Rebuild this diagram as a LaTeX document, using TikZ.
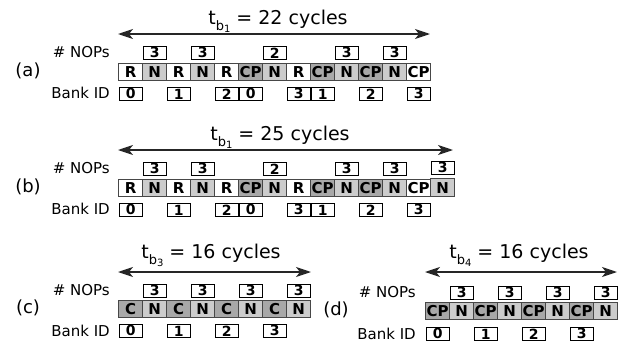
\documentclass[tikz,border=0pt]{standalone}
\usepackage{fontspec}
\setmainfont{DejaVu Sans}
\usetikzlibrary{arrows.meta}
\definecolor{ngray}{RGB}{204,204,204}
\definecolor{cgray}{RGB}{168,168,168}
\newcommand{\tsub}[1]{t\raisebox{-0.32em}{\fontsize{13}{13}\selectfont b\raisebox{-0.22em}{\fontsize{10}{10}\selectfont #1}}}
\begin{document}
\begin{tikzpicture}[x=1pt,y=-1pt,
  mb/.style={draw=black!72, line width=1.2pt, minimum width=24pt, minimum height=17pt, inner sep=0pt, anchor=north west, font=\fontsize{15}{15}\selectfont\bfseries},
  sb/.style={draw=black, line width=1.3pt, minimum width=23pt, minimum height=12.5pt, inner sep=0pt, anchor=north west, font=\fontsize{14}{14}\selectfont\bfseries},
  lbl/.style={font=\fontsize{15}{15}\selectfont, anchor=east, inner sep=0pt},
  pl/.style={font=\fontsize{18}{18}\selectfont, inner sep=0pt},
  ttl/.style={font=\fontsize{19}{19}\selectfont, anchor=base, inner sep=0pt},
  span/.style={line width=1.4pt, draw=black!85, {Stealth[length=15pt,width=10pt,inset=4pt]}-{Stealth[length=15pt,width=10pt,inset=4pt]}}
]
\useasboundingbox (0,0) rectangle (625,343);

% ---------- panel (a)
\node[ttl] (at) at (278,24) {\tsub{1} = 22 cycles};
\coordinate (aL) at (118,34); \coordinate (aR) at (430,34);
\draw[span] (aL) -- (aR);
\node[pl] (ap) at (28,71) {(a)};
\node[lbl] (anl) at (110,52) {\# NOPs};
\node[lbl] (abl) at (110,93) {Bank ID};
\foreach \t/\f [count=\i from 0] in {R/white,N/ngray,R/white,N/ngray,R/white,CP/cgray,N/ngray,R/white,CP/cgray,N/ngray,CP/cgray,N/ngray,CP/white}
  \node[mb,fill=\f] (a\i) at ({118+24*\i},63) {\t};
\foreach \s/\v in {1/3,3/3,6/2,9/3,11/3}
  \node[sb] (an\s) at ({118.5+24*\s},46) {\v};
\foreach \s/\v in {0/0,2/1,4/2,5/0,7/3,8/1,10/2,12/3}
  \node[sb] (ab\s) at ({118.5+24*\s},87) {\v};

% ---------- panel (b)
\node[ttl] (bt) at (280,140) {\tsub{1} = 25 cycles};
\coordinate (bL) at (118,150); \coordinate (bR) at (453,150);
\draw[span] (bL) -- (bR);
\node[pl] (bp) at (28,187) {(b)};
\node[lbl] (bnl) at (110,168) {\# NOPs};
\node[lbl] (bbl) at (110,209) {Bank ID};
\foreach \t/\f [count=\i from 0] in {R/white,N/ngray,R/white,N/ngray,R/white,CP/cgray,N/ngray,R/white,CP/cgray,N/ngray,CP/cgray,N/ngray,CP/white}
  \node[mb,fill=\f] (b\i) at ({118+24*\i},179) {\t};
\node[mb,fill=ngray,minimum height=18pt] (b13) at ({118+24*13},178) {N};
\foreach \s/\v in {1/3,3/3,6/2,9/3,11/3}
  \node[sb] (bn\s) at ({118.5+24*\s},162) {\v};
\node[sb] (bn13) at ({118.5+24*13},161) {3};
\foreach \s/\v in {0/0,2/1,4/2,5/0,7/3,8/1,10/2,12/3}
  \node[sb] (bb\s) at ({118.5+24*\s},203) {\v};

% ---------- panel (c)
\node[ttl] (ct) at (211,258) {\tsub{3} = 16 cycles};
\coordinate (cL) at (118,272); \coordinate (cR) at (311,272);
\draw[span] (cL) -- (cR);
\node[pl] (cp) at (28,308) {(c)};
\node[lbl] (cnl) at (110,290) {\# NOPs};
\node[lbl] (cbl) at (110,331) {Bank ID};
\foreach \t/\f [count=\i from 0] in {C/cgray,N/ngray,C/cgray,N/ngray,C/cgray,N/ngray,C/cgray,N/ngray}
  \node[mb,fill=\f] (c\i) at ({118+24*\i},300) {\t};
\foreach \s/\v in {1/3,3/3,5/3,7/3}
  \node[sb] (cn\s) at ({118.5+24*\s},284) {\v};
\foreach \s/\v in {0/0,2/1,4/2,6/3}
  \node[sb] (cb\s) at ({118.5+24*\s},324) {\v};

% ---------- panel (d)
\node[ttl] (dt) at (519,258) {\tsub{4} = 16 cycles};
\coordinate (dL) at (425,272); \coordinate (dR) at (617,272);
\draw[span] (dL) -- (dR);
\node[pl] (dp) at (336,310) {(d)};
\node[lbl] (dnl) at (416,292) {\# NOPs};
\node[lbl] (dbl) at (416,334) {Bank ID};
\foreach \t/\f [count=\i from 0] in {CP/cgray,N/ngray,CP/cgray,N/ngray,CP/cgray,N/ngray,CP/cgray,N/ngray}
  \node[mb,fill=\f] (d\i) at ({425+24*\i},302) {\t};
\foreach \s/\v in {1/3,3/3,5/3,7/3}
  \node[sb] (dn\s) at ({425.5+24*\s},286) {\v};
\foreach \s/\v in {0/0,2/1,4/2,6/3}
  \node[sb] (db\s) at ({425.5+24*\s},327) {\v};
\end{tikzpicture}
\end{document}
